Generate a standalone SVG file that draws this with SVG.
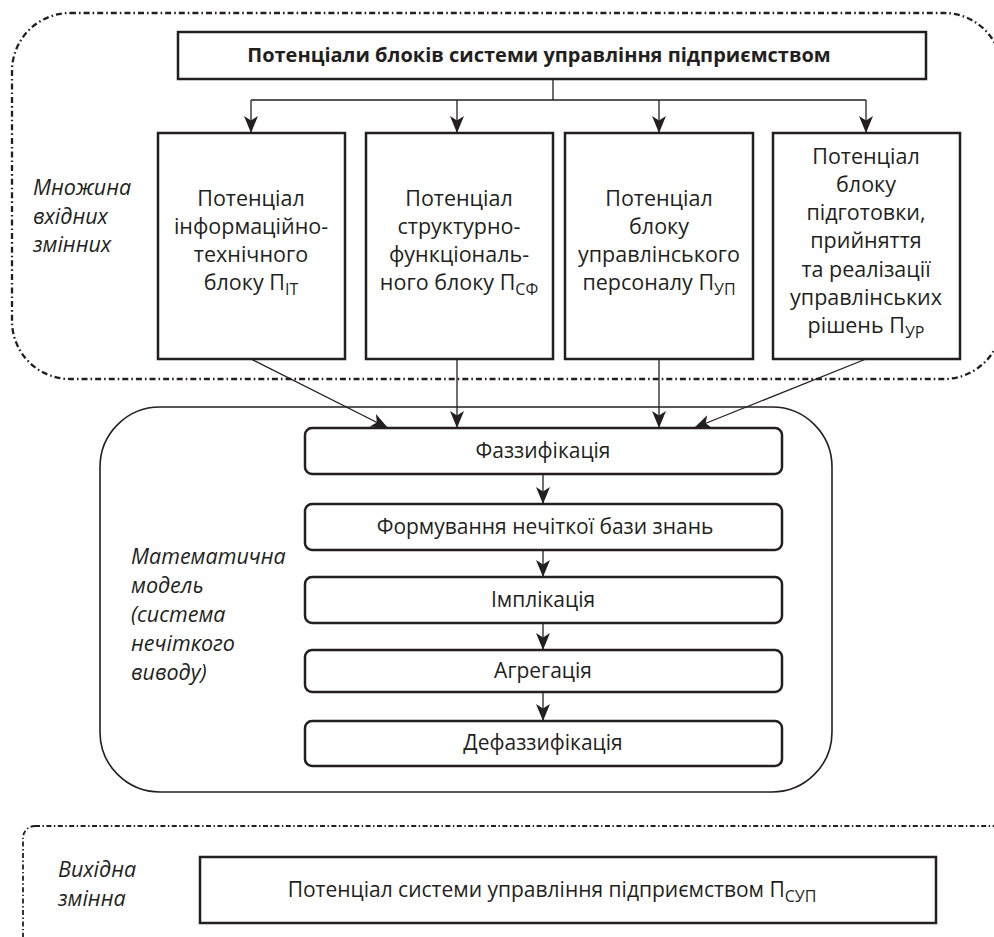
<svg xmlns="http://www.w3.org/2000/svg" width="994" height="937" viewBox="0 0 994 937">
<style>
text{font-family:"Open Sans","Noto Sans","DejaVu Sans",sans-serif;font-size:21.5px;fill:#231f20}
.c{text-anchor:middle}
.b{font-weight:bold;font-size:20px}
.i{font-style:italic;font-size:21.5px}
.m{font-size:21px}
.s{font-size:16px}
.box{fill:#fff;stroke:#231f20;stroke-width:2.5}
.rbox{fill:#fff;stroke:#231f20;stroke-width:2.5}
.region{fill:none;stroke:#231f20;stroke-width:2.3;stroke-dasharray:6 3 1.6 3}
.region2{fill:none;stroke:#231f20;stroke-width:1.8;stroke-dasharray:5 2.5 1.4 2.5}
.model{fill:none;stroke:#231f20;stroke-width:1.6}
.ln{fill:none;stroke:#231f20;stroke-width:1.3}
</style>
<defs>
<marker id="ah" markerUnits="userSpaceOnUse" markerWidth="20" markerHeight="16" viewBox="-1 -8 20 16" refX="17" refY="0" orient="auto">
<path d="M0,-7 L17,0 L0,7 L4.5,0 Z" fill="#231f20"/>
</marker>
</defs>

<g id="input-region">
<rect class="region" x="12" y="13" width="990" height="366" rx="58"/>
<text class="i" x="33" y="195">Множина</text>
<text class="i" x="33" y="224">вхідних</text>
<text class="i" x="33" y="252">змінних</text>
</g>

<g id="model-region">
<rect class="model" x="100" y="407" width="732" height="385" rx="60"/>
<text class="i" x="131" y="564">Математична</text>
<text class="i" x="131" y="593">модель</text>
<text class="i" x="131" y="622">(система</text>
<text class="i" x="131" y="651">нечіткого</text>
<text class="i" x="131" y="680">виводу)</text>
</g>

<g id="output-region">
<rect class="region2" x="23" y="826" width="1000" height="130" rx="12"/>
<text class="i" x="58" y="877">Вихідна</text>
<text class="i" x="58" y="906">змінна</text>
</g>

<g id="connectors">
<path class="ln" d="M553,79 V100 M251,100 H866"/>
<path class="ln" marker-end="url(#ah)" d="M251,100 V133"/>
<path class="ln" marker-end="url(#ah)" d="M457,100 V133"/>
<path class="ln" marker-end="url(#ah)" d="M659,100 V133"/>
<path class="ln" marker-end="url(#ah)" d="M866,100 V133"/>
<path class="ln" marker-end="url(#ah)" d="M251,359 L388,428"/>
<path class="ln" marker-end="url(#ah)" d="M457,359 V428"/>
<path class="ln" marker-end="url(#ah)" d="M659,359 V428"/>
<path class="ln" marker-end="url(#ah)" d="M866,359 L694,428"/>
<path class="ln" marker-end="url(#ah)" d="M543,474 V504"/>
<path class="ln" marker-end="url(#ah)" d="M543,550 V577"/>
<path class="ln" marker-end="url(#ah)" d="M543,623 V650"/>
<path class="ln" marker-end="url(#ah)" d="M543,692 V721"/>
</g>

<g id="top-box">
<rect class="box" x="178" y="32" width="748" height="47"/>
<text class="c b" x="539" y="62">Потенціали блоків системи управління підприємством</text>
</g>

<g id="box-it">
<rect class="box" x="158" y="133" width="187" height="226"/>
<text class="c" x="251" y="206">Потенціал</text>
<text class="c" x="251" y="234">інформаційно-</text>
<text class="c" x="251" y="262">технічного</text>
<text class="c" x="251" y="290">блоку П<tspan class="s" dy="5">IT</tspan></text>
</g>

<g id="box-sf">
<rect class="box" x="366" y="133" width="187" height="226"/>
<text class="c" x="459" y="206">Потенціал</text>
<text class="c" x="459" y="234">структурно-</text>
<text class="c" x="459" y="262">функціональ-</text>
<text class="c" x="459" y="290">ного блоку П<tspan class="s" dy="5">СФ</tspan></text>
</g>

<g id="box-up">
<rect class="box" x="565" y="133" width="188" height="226"/>
<text class="c" x="659" y="206">Потенціал</text>
<text class="c" x="659" y="234">блоку</text>
<text class="c" x="659" y="262">управлінського</text>
<text class="c" x="659" y="290">персоналу П<tspan class="s" dy="5">УП</tspan></text>
</g>

<g id="box-ur">
<rect class="box" x="773" y="133" width="187" height="226"/>
<text class="c" x="866" y="164">Потенціал</text>
<text class="c" x="866" y="192">блоку</text>
<text class="c" x="866" y="220">підготовки,</text>
<text class="c" x="866" y="248">прийняття</text>
<text class="c" x="866" y="277">та реалізації</text>
<text class="c" x="866" y="305">управлінських</text>
<text class="c" x="866" y="333">рішень П<tspan class="s" dy="5">УР</tspan></text>
</g>

<g id="fuzzification">
<rect class="rbox" x="305" y="428" width="477" height="46" rx="7"/>
<text class="c m" x="543" y="458">Фаззифікація</text>
</g>

<g id="knowledge-base">
<rect class="rbox" x="305" y="504" width="477" height="46" rx="7"/>
<text class="c m" x="545" y="534">Формування нечіткої бази знань</text>
</g>

<g id="implication">
<rect class="rbox" x="305" y="577" width="477" height="46" rx="7"/>
<text class="c m" x="543" y="607">Імплікація</text>
</g>

<g id="aggregation">
<rect class="rbox" x="305" y="650" width="477" height="42" rx="7"/>
<text class="c m" x="543" y="678">Агрегація</text>
</g>

<g id="defuzzification">
<rect class="rbox" x="305" y="721" width="477" height="45" rx="7"/>
<text class="c m" x="543" y="750">Дефаззифікація</text>
</g>

<g id="output-box">
<rect class="box" x="200" y="857" width="736" height="66"/>
<text class="c m" x="552" y="897">Потенціал системи управління підприємством П<tspan class="s" dy="5">СУП</tspan></text>
</g>
</svg>
